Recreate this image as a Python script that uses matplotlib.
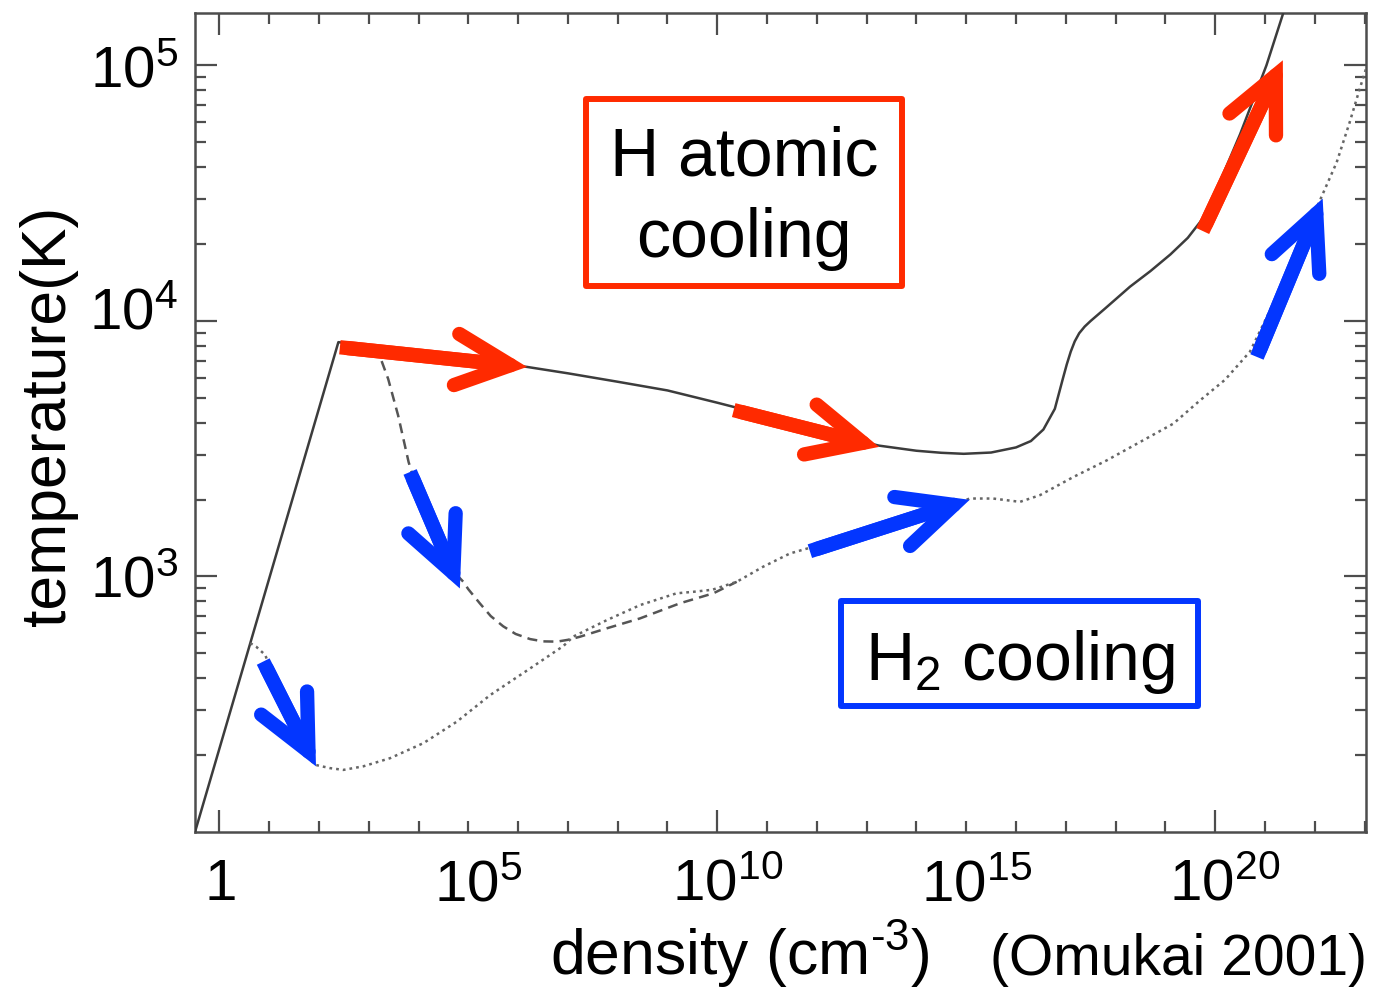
import numpy as np
import matplotlib
matplotlib.use("Agg")
import matplotlib.pyplot as plt
import matplotlib.transforms as mtransforms
from matplotlib.patches import Rectangle

plt.rcParams['font.family'] = ['Liberation Sans', 'DejaVu Sans']
plt.rcParams['mathtext.fontset'] = 'custom'
plt.rcParams['mathtext.rm'] = 'Liberation Sans'
plt.rcParams['mathtext.it'] = 'Liberation Sans:italic'
plt.rcParams['mathtext.bf'] = 'Liberation Sans:bold'

# ---------------- data (log10 n [cm^-3], log10 T [K]) ----------------
atomic_logn = [-0.49, 2.39, 3.0, 3.5, 4.5, 5.5, 6.18, 7.0, 8.0, 9.0, 10.0, 10.3,
               11.0, 12.0, 12.7, 13.25, 14.0, 14.5, 14.95, 15.5, 16.0, 16.3,
               16.55, 16.78, 16.94, 17.02, 17.1, 17.18, 17.27, 17.38, 17.5, 17.78, 18.29, 18.7, 19.1,
               19.45, 19.75, 20.0, 20.5, 21.03, 21.37, 21.45]
atomic_logT = [2.0, 3.917, 3.90, 3.885, 3.858, 3.838, 3.82, 3.795, 3.762, 3.728, 3.68, 3.665,
               3.628, 3.572, 3.537, 3.512, 3.492, 3.484, 3.48, 3.485, 3.505, 3.53,
               3.575, 3.656, 3.773, 3.83, 3.88, 3.92, 3.952, 3.978, 4.0, 4.047, 4.134, 4.195, 4.26,
               4.325, 4.40, 4.50, 4.73, 5.0, 5.206, 5.26]

h2hot_logn = [3.05, 3.23, 3.39, 3.59, 3.80, 4.1, 4.4, 4.65, 4.90, 5.0, 5.23, 5.45, 5.70,
              5.95, 6.24, 6.5, 6.78, 7.0, 7.24, 7.78, 8.45, 9.25, 9.92, 10.39]
h2hot_logT = [3.89, 3.858, 3.773, 3.63, 3.448, 3.26, 3.12, 3.03, 2.979, 2.95, 2.895, 2.845, 2.805,
              2.775, 2.755, 2.746, 2.745, 2.752, 2.764, 2.797, 2.836, 2.895, 2.934, 2.979]

h2cold_logn = [0.62, 0.74, 0.92, 1.2, 1.5, 1.75, 1.92, 2.22, 2.49, 2.89, 3.43, 4.10,
               4.77, 5.44, 6.24, 6.91, 7.11, 7.78, 8.45, 9.18, 9.52, 9.9, 10.39, 10.92,
               11.46, 11.80, 12.5, 13.5, 14.3, 15.07, 15.54, 16.08, 16.48, 17.15, 17.82,
               18.49, 19.16, 19.69, 20.2, 20.7, 21.4, 22.13, 22.44, 22.7, 22.9, 23.1]
h2cold_logT = [2.739, 2.725, 2.693, 2.55, 2.40, 2.30, 2.263, 2.25, 2.243, 2.257, 2.289, 2.348,
               2.432, 2.536, 2.64, 2.728, 2.765, 2.829, 2.888, 2.934, 2.94, 2.948, 2.979, 3.038,
               3.09, 3.109, 3.14, 3.20, 3.25, 3.305, 3.305, 3.292, 3.318, 3.389, 3.454,
               3.526, 3.598, 3.688, 3.77, 3.88, 4.16, 4.483, 4.62, 4.776, 4.906, 5.03]

# annotation arrows: (tail logn, tail logT, tip logn, tip logT)
red_arrows = [(2.42, 3.897, 6.18, 3.820),
              (10.33, 3.651, 13.25, 3.507),
              (19.75, 4.352, 21.36, 5.02)]
blue_arrows = [(0.88, 2.667, 1.94, 2.257),
               (3.83, 3.409, 4.83, 2.953),
               (11.86, 3.099, 15.07, 3.30),
               (20.84, 3.859, 22.16, 4.479)]

x_major = [0, 10, 20]
x_minor = [1, 2, 3, 4, 5, 6, 7, 8, 9, 11, 12, 13, 14, 15, 16, 17, 18, 19, 21, 22, 23]
x_labelled = {0: r'$1$', 5: r'$10^{5}$', 10: r'$10^{10}$', 15: r'$10^{15}$', 20: r'$10^{20}$'}
y_major = [3, 4, 5]
y_major_labels = [r'$10^{3}$', r'$10^{4}$', r'$10^{5}$']

RED = '#FF2A00'
BLUE = '#0336FF'

# ---------------- figure ----------------
W, H = 1394, 990
fig = plt.figure(figsize=(W / 100, H / 100), dpi=100)
ax = fig.add_axes([195 / W, 1 - 832 / H, 1170.5 / W, 819.5 / H])
ax.set_xscale('log')
ax.set_yscale('log')

tp = lambda a: [10.0 ** v for v in a]
ax.plot(tp(atomic_logn), tp(atomic_logT), color='#3c3c3c', lw=1.8, solid_capstyle='butt',
        solid_joinstyle='round', zorder=3)
ax.plot(tp(h2hot_logn), tp(h2hot_logT), color='#555555', lw=1.8, linestyle=(0, (4, 2.5)), zorder=3)
ax.plot(tp(h2cold_logn), tp(h2cold_logT), color='#666666', lw=1.8, linestyle=(0, (1.1, 1.6)), zorder=3)

# spines & ticks
for s in ax.spines.values():
    s.set_color('#4d4d4d')
    s.set_linewidth(1.8)
ax.tick_params(which='both', direction='in', top=True, right=True, color='#4d4d4d', width=1.6,
               labelsize=42, colors='#4d4d4d', labelcolor='black')
ax.tick_params(which='major', length=15.5)
ax.tick_params(which='minor', length=8)
ax.tick_params(axis='x', which='both', pad=49)
ax.tick_params(axis='y', which='both', pad=12)

ax.set_xticks(tp(x_major), [x_labelled.get(v, '') for v in x_major])
ax.set_xticks(tp(x_minor), [x_labelled.get(v, '') for v in x_minor], minor=True)
ax.set_yticks(tp(y_major), y_major_labels)
y_minor = [np.log10(m) + d for d in (2, 3, 4, 5) for m in range(2, 10)]
ax.set_yticks(tp(y_minor), minor=True)
ax.yaxis.set_minor_formatter(matplotlib.ticker.NullFormatter())

ax.set_xlim(10 ** -0.49, 10 ** 23.02)
ax.set_ylim(10 ** 2.0, 10 ** 5.207)

shift_right = mtransforms.ScaledTranslation(10 / 100, 0, fig.dpi_scale_trans)
for t in ax.xaxis.get_major_ticks() + ax.xaxis.get_minor_ticks():
    t.label1.set_verticalalignment('baseline')
    if '^' in t.label1.get_text():
        t.label1.set_transform(t.label1.get_transform() + shift_right)
shift_up = mtransforms.ScaledTranslation(0, 13 / 100, fig.dpi_scale_trans)
for t in ax.yaxis.get_major_ticks():
    if '10^{4}' in t.label1.get_text():
        t.label1.set_transform(t.label1.get_transform() + shift_up)

# axis labels
ax.set_ylabel('temperature(K)', fontsize=45)
ax.yaxis.set_label_coords(-0.1, 0.5076)
fig.text(550 / W, 1 - 975 / H, r'density (cm$^{\text{-3}}$)', fontsize=45, ha='left', va='baseline')
fig.text(990 / W, 1 - 975 / H, '(Omukai 2001)', fontsize=41, ha='left', va='baseline')


def arrow(a, color):
    tail = (10 ** a[0], 10 ** a[1])
    tip = (10 ** a[2], 10 ** a[3])
    lw = 10.3
    ax.annotate('', xy=tip, xytext=tail,
                arrowprops=dict(arrowstyle='-', lw=lw, color=color, capstyle='butt',
                                shrinkA=0, shrinkB=30), zorder=5)
    ax.annotate('', xy=tip, xytext=tail,
                arrowprops=dict(arrowstyle='->,head_length=3.9,head_width=1.85', mutation_scale=10,
                                lw=lw, color=color, capstyle='round', joinstyle='miter',
                                shrinkA=lw / 2 + 0.5, shrinkB=0), zorder=5)


for a in red_arrows:
    arrow(a, RED)
for a in blue_arrows:
    arrow(a, BLUE)

# label boxes
def box(x0, y0, x1, y1, color):
    fig.add_artist(Rectangle((x0 / W, 1 - y1 / H), (x1 - x0) / W, (y1 - y0) / H,
                             transform=fig.transFigure, fill=False, ec=color, lw=4.3,
                             joinstyle='round', zorder=6))

box(586, 99, 902, 286, RED)
fig.text(744 / W, 1 - 175.5 / H, 'H atomic', fontsize=49, ha='center', va='baseline')
fig.text(744 / W, 1 - 257 / H, 'cooling', fontsize=49, ha='center', va='baseline')
box(841, 601, 1198, 706, BLUE)
fig.text(1020 / W, 1 - 679.5 / H, r'H$_{2}$ cooling', fontsize=49, ha='center', va='baseline')

fig.savefig('out.png', dpi=100)
